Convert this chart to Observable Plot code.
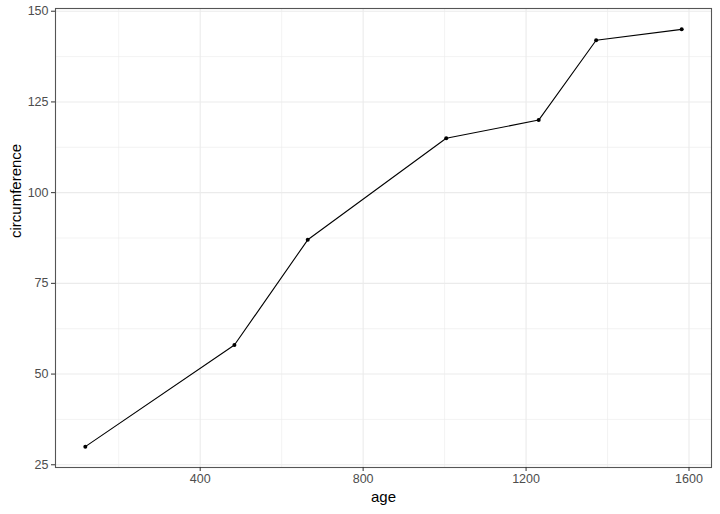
<!DOCTYPE html>
<html>
<head>
<meta charset="utf-8">
<script src="https://cdn.jsdelivr.net/npm/d3@7"></script>
<script src="https://cdn.jsdelivr.net/npm/@observablehq/plot@0.6"></script>
<style>
  html, body { margin: 0; padding: 0; background: #fff; }
  svg { display: block; }
</style>
</head>
<body>
<div id="chart"></div>
<script>
const age = [118, 484, 664, 1004, 1231, 1372, 1582];
const circumference = [30, 58, 87, 115, 120, 142, 145];
const xMajor = [400, 800, 1200, 1600];
const xMinor = [200, 600, 1000, 1400];
const yMajor = [25, 50, 75, 100, 125, 150];
const yMinor = [37.5, 62.5, 87.5, 112.5, 137.5];

const data = age.map((a, i) => ({age: a, circumference: circumference[i]}));

const chart = Plot.plot({
  width: 720,
  height: 514,
  marginLeft: 55,
  marginTop: 8,
  marginRight: 9,
  marginBottom: 47,
  style: {fontFamily: "Liberation Sans, Arial, sans-serif", background: "#fff"},
  x: {domain: [44.8, 1655.2]},
  y: {domain: [24.25, 150.75]},
  marks: [
    Plot.gridX(xMinor, {stroke: "#ebebeb", strokeOpacity: 1, strokeWidth: 0.6}),
    Plot.gridY(yMinor, {stroke: "#ebebeb", strokeOpacity: 1, strokeWidth: 0.6}),
    Plot.gridX(xMajor, {stroke: "#ebebeb", strokeOpacity: 1, strokeWidth: 1.1}),
    Plot.gridY(yMajor, {stroke: "#ebebeb", strokeOpacity: 1, strokeWidth: 1.1}),
    Plot.frame({stroke: "#555555", strokeWidth: 1.1}),
    Plot.axisX(xMajor, {tickSize: 4, tickPadding: 3, fontSize: 12.5, color: "#4d4d4d", stroke: "#333", label: null, tickFormat: d => String(d)}),
    Plot.axisY(yMajor, {tickSize: 4, tickPadding: 3, fontSize: 12.5, color: "#4d4d4d", stroke: "#333", label: null, tickFormat: d => String(d)}),
    Plot.text(["age"], {frameAnchor: "bottom", dy: 34, fontSize: 15, fill: "#000"}),
    Plot.text(["circumference"], {frameAnchor: "left", dx: -39, rotate: -90, fontSize: 15, fill: "#000"}),
    Plot.line(data, {x: "age", y: "circumference", stroke: "#000", strokeWidth: 1.1}),
    Plot.dot(data, {x: "age", y: "circumference", r: 2, fill: "#000", stroke: null})
  ]
});
document.getElementById("chart").append(chart);
</script>
</body>
</html>
